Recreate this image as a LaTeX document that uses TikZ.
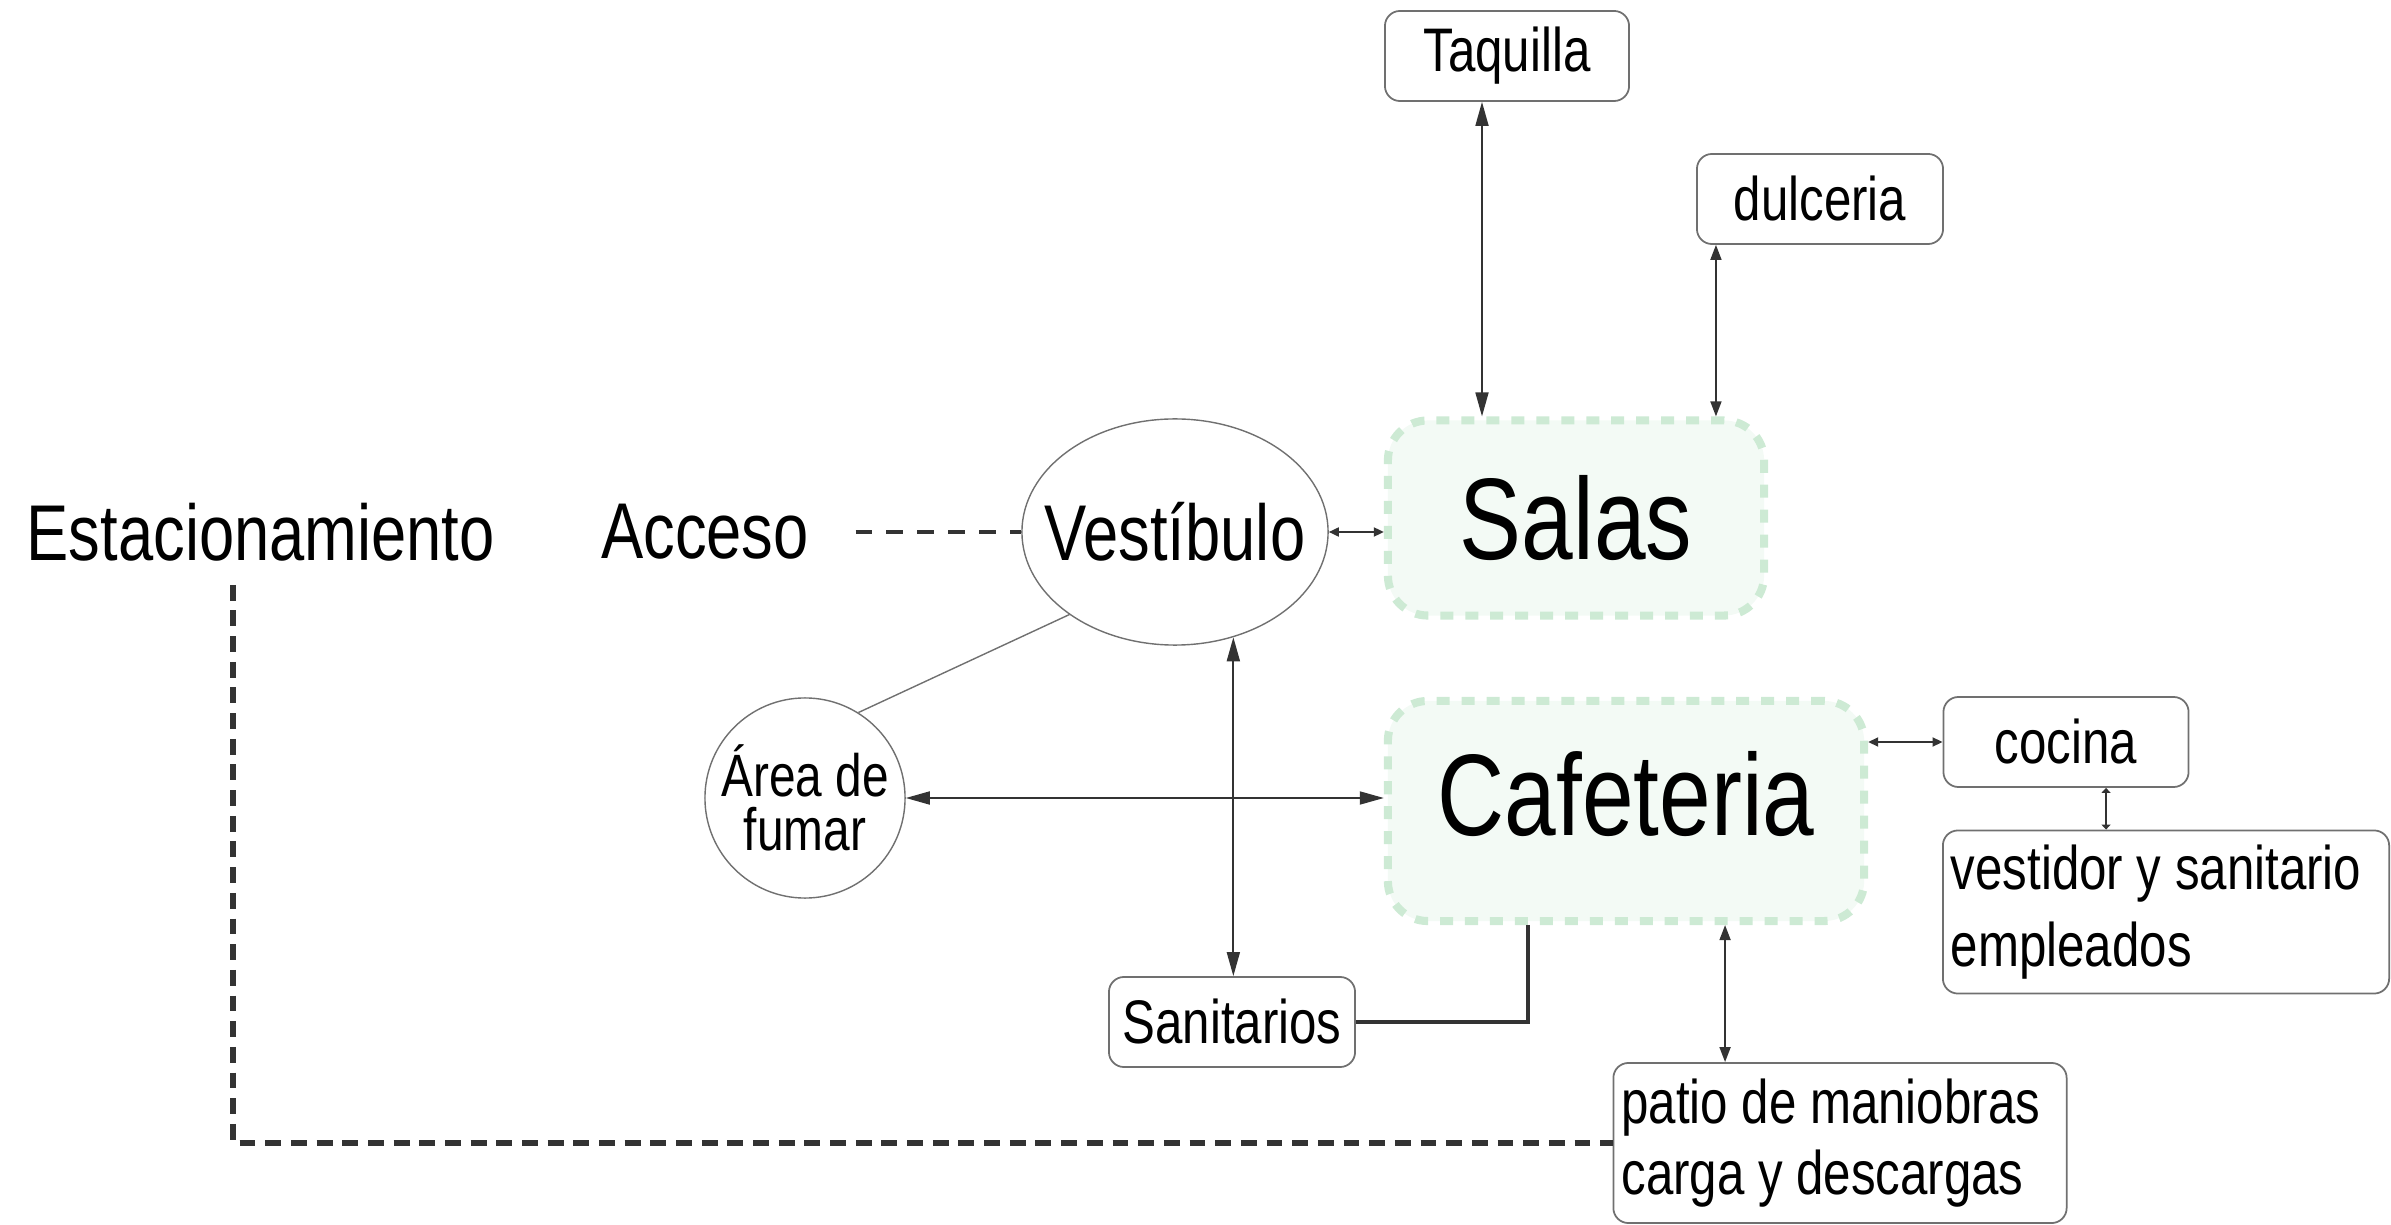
\documentclass[tikz,border=0pt]{standalone}
\usepackage{fontspec}
\setmainfont[FakeStretch=0.8]{Liberation Sans}
\usetikzlibrary{arrows.meta,shapes.geometric}
\definecolor{linea}{HTML}{333333}
\definecolor{borde}{HTML}{707070}
\definecolor{verdeborde}{HTML}{CDEAD4}
\definecolor{verdefondo}{HTML}{F3FAF5}
\begin{document}
\begin{tikzpicture}[x=0.01cm,y=-0.01cm,
        caja/.style={draw=borde,line width=0.5pt,rounded corners=0.15cm,inner sep=0pt,
            font=\fontsize{17.5}{20.5}\selectfont},
        zona/.style={draw=verdeborde,fill=verdefondo,line width=2.3pt,
            dash pattern=on 3.7pt off 3.4pt,rounded corners=0.4cm,inner sep=0pt,
            font=\fontsize{33}{36}\selectfont},
        ovalo/.style={draw=borde,line width=0.4pt,inner sep=0pt},
        etiqueta/.style={font=\fontsize{22.5}{26}\selectfont,inner sep=0pt},
        flecha/.style={draw=linea,line width=0.5pt,
            {Triangle[length=0.24cm,width=0.13cm]}-{Triangle[length=0.24cm,width=0.13cm]}},
        flechamedia/.style={draw=linea,line width=0.5pt,
            {Triangle[length=0.15cm,width=0.11cm]}-{Triangle[length=0.15cm,width=0.11cm]}},
        flechita/.style={draw=linea,line width=0.5pt,
            {Triangle[length=0.1cm,width=0.09cm]}-{Triangle[length=0.1cm,width=0.09cm]}}]
    \useasboundingbox (0,0) rectangle (2391,1225);
    % zonas principales
    \node[zona,minimum width=3.76cm,minimum height=1.95cm] (sal) at (1576,518) {Salas};
    \node[zona,minimum width=4.76cm,minimum height=2.2cm,text depth=0.35cm] (caf) at (1626,811) {Cafeteria};
    \node[ovalo,ellipse,minimum width=3.06cm,minimum height=2.26cm,etiqueta] (vest) at (1175,532) {\makebox[0pt]{Vestíbulo}};
    \node[etiqueta] (acc) at (705,532) {Acceso};
    \node[etiqueta,anchor=west] (est) at (26,532) {Estacionamiento};
    \node[ovalo,circle,minimum size=2cm,font=\fontsize{17}{13.5}\selectfont] (fum) at (805,798)
        {\makebox[0pt]{\shortstack{Área de\\fumar}}};
    % cajas
    \node[caja,minimum width=2.44cm,minimum height=0.9cm] (taq) at (1507,56) {Taquilla};
    \node[caja,minimum width=2.46cm,minimum height=0.9cm] (dul) at (1820,199) {dulceria};
    \node[caja,minimum width=2.46cm,minimum height=0.9cm] (san) at (1232,1022) {Sanitarios};
    \node[caja,minimum width=2.45cm,minimum height=0.9cm] (coc) at (2066,742) {cocina};
    \node[caja,minimum width=4.46cm,minimum height=1.63cm] (emp) at (2166,912)
        {\makebox[4.3cm][l]{\shortstack[l]{vestidor y sanitario\\[2.5pt]empleados}}};
    \node[caja,minimum width=4.53cm,minimum height=1.6cm] (pat) at (1840,1143)
        {\makebox[4.37cm][l]{\shortstack[l]{patio de maniobras\\[1pt]carga y descargas}}};
    % conexiones
    \draw[flecha] ([xshift=-0.25cm]taq.south) -- ([xshift=-0.25cm]taq.south |- sal.north);
    \draw[flechamedia] ([xshift=-1.04cm]dul.south) -- ([xshift=-1.04cm]dul.south |- sal.north);
    \draw[flechita] (vest.east) -- (vest.east -| sal.west);
    \draw[linea,line width=0.9pt,dash pattern=on 4.8pt off 4pt] ([xshift=0.46cm]acc.east) -- (vest.west);
    \draw[borde,line width=0.4pt] (fum.58) -- (vest.218);
    \draw[flecha] (fum.east) -- (fum.east -| caf.west);
    \draw[flecha] (vest.-61.5) -- (vest.-61.5 |- san.north);
    \draw[linea,line width=1.1pt] (san.east) -| ([xshift=-0.98cm]caf.south);
    \draw[flechita] (coc.west) -- (coc.west -| caf.east);
    \draw[draw=linea,line width=0.5pt,{Triangle[length=0.05cm,width=0.09cm]}-{Triangle[length=0.05cm,width=0.09cm]}]
        ([xshift=0.4cm]coc.south) -- ([xshift=0.4cm]coc.south |- emp.north);
    \draw[flechamedia] ([xshift=0.99cm]caf.south) -- ([xshift=0.99cm]caf.south |- pat.north);
    \draw[linea,line width=1.7pt,dash pattern=on 4.5pt off 2.8pt]
        ([xshift=2.07cm,yshift=-0.23cm]est.south west) |- (pat.west);
\end{tikzpicture}
\end{document}
